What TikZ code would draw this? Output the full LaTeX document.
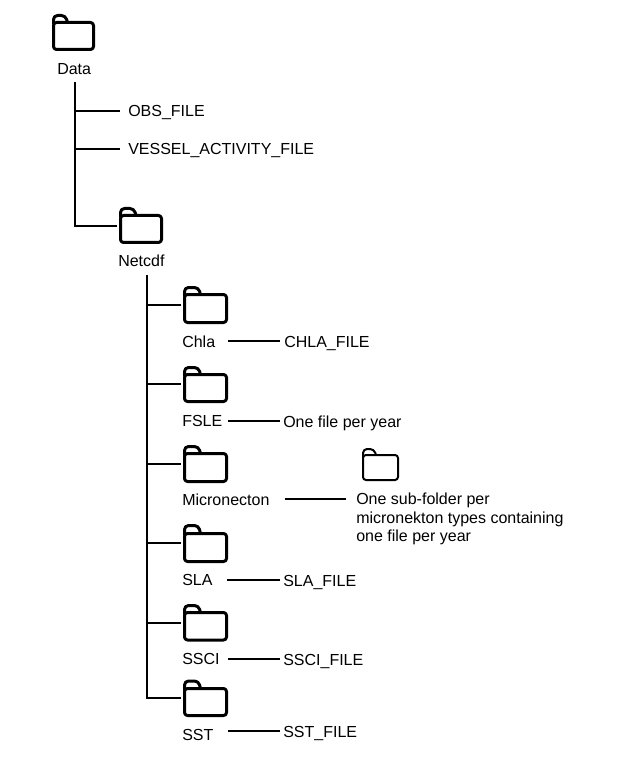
\documentclass[tikz,border=0pt]{standalone}
\usepackage{fontspec}
\setmainfont{Liberation Sans}
\tikzset{
  lbl/.style={inner sep=0pt,anchor=base west,font=\fontsize{12}{14.5}\selectfont,text=black},
  link/.style={draw=black,line width=1.31pt},
  trunk/.style={draw=black,line width=1.5pt},
  foldline/.style={draw=black,line width=#1*0.75pt,line join=round}
}
% name, left, top, right, bottom, body top, tab right, line width (px), y of the west connection
\newcommand{\foldershape}[9]{%
  \coordinate (#1-w) at (#2,#9);
  \draw[foldline=#8,rounded corners=2.2pt] (#2,#6) -- (#4,#6) -- (#4,#5) -- (#2,#5) -- cycle;
  \draw[foldline=#8,rounded corners=3pt] (#2,#6+2) -- (#2,#3) -- (#7-2,#3) -- (#7,#6);
}
\begin{document}
\begin{tikzpicture}[x=0.75pt,y=-0.75pt]
\useasboundingbox[fill=white] (0,0) rectangle (638,766);
\foldershape{data}{53.5}{15.5}{93.5}{49.5}{22.5}{67.5}{3}{32}
\foldershape{net}{120.5}{208.5}{161.5}{242.5}{215.5}{136}{3}{226}
\foldershape{chla}{184.5}{287.5}{226.5}{322.5}{294.5}{200.5}{3}{305}
\foldershape{fsle}{184.5}{367.5}{226.5}{401.5}{374.5}{200.5}{3}{384}
\foldershape{micro}{184.5}{446.5}{226.5}{481.5}{453.5}{200.5}{3}{464}
\foldershape{sla}{184.5}{525.5}{226.5}{561.5}{533.5}{200.5}{3}{543}
\foldershape{ssci}{184.5}{605.5}{226.5}{640}{612.5}{200.5}{3}{623}
\foldershape{sst}{184.5}{681}{226.5}{715.5}{688.5}{200.5}{3}{698}
\foldershape{sub}{363}{449}{398}{480}{455}{376}{2}{465}

\node[lbl] (ldata) at (57,74.5) {Data};
\node[lbl] (obs) at (128,117) {OBS\_FILE};
\node[lbl] (vessel) at (128,155) {VESSEL\_ACTIVITY\_FILE};
\node[lbl] (lnet) at (118,266.5) {Netcdf};
\node[lbl] (lchla) at (182,347) {Chla};
\node[lbl] (chlaf) at (284,347) {CHLA\_FILE};
\node[lbl] (lfsle) at (182,426) {FSLE};
\node[lbl] (fslef) at (283,427) {One file per year};
\node[lbl] (lmicro) at (182,505) {Micronecton};
\node[lbl,align=left,anchor=north west,font=\fontsize{12}{13.9}\selectfont] (microf) at (356,493) {One sub-folder per\\micronekton types containing\\one file per year};
\node[lbl] (lsla) at (182,585) {SLA};
\node[lbl] (slaf) at (283,586) {SLA\_FILE};
\node[lbl] (lssci) at (182,664) {SSCI};
\node[lbl] (sscif) at (283,665) {SSCI\_FILE};
\node[lbl] (lsst) at (182,740) {SST};
\node[lbl] (sstf) at (283,737) {SST\_FILE};

% trunks
\coordinate (t1a) at (74.5,83);
\coordinate (t1b) at (74.5,226);
\coordinate (t2a) at (146.7,276);
\coordinate (t2b) at (146.7,698);
\draw[trunk,line cap=rect] (t1a) -- (t1b);
\draw[trunk,line cap=rect] (t2a) -- (t2b);
% branches of the first trunk
\draw[link,shorten >=6pt] (t1a |- 0,111) -- (obs.west |- 0,111);
\draw[link,shorten >=6.2pt] (t1a |- 0,149) -- (vessel.west |- 0,149);
\draw[link,shorten >=2.6pt] (t1b) -- (net-w);
% branches of the second trunk
\foreach \f in {chla,fsle,micro,sla,ssci,sst}
  \draw[link,shorten >=2.6pt] (t2a |- \f-w) -- (\f-w);
% label to file
\draw[link,shorten <=9.75pt,shorten >=3pt] (lchla.east |- 0,341) -- (chlaf.west |- 0,341);
\draw[link,shorten <=4.1pt,shorten >=2.25pt] (lfsle.east |- 0,421) -- (fslef.west |- 0,421);
\draw[link,shorten <=11.25pt,shorten >=7.5pt] (lmicro.east |- 0,499.3) -- (microf.west |- 0,499.3);
\draw[link,shorten <=10.9pt,shorten >=2pt] (lsla.east |- 0,580) -- (slaf.west |- 0,580);
\draw[link,shorten <=6pt,shorten >=2.25pt] (lssci.east |- 0,659) -- (sscif.west |- 0,659);
\draw[link,shorten <=10.9pt,shorten >=2.25pt] (lsst.east |- 0,731) -- (sstf.west |- 0,731);
\end{tikzpicture}
\end{document}
